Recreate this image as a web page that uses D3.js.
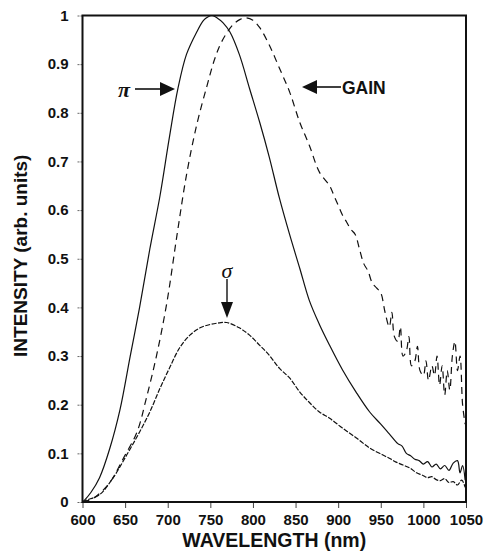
<!DOCTYPE html>
<html>
<head>
<meta charset="utf-8">
<script src="https://cdn.jsdelivr.net/npm/d3@7/dist/d3.min.js"></script>
<style>
  html, body { margin: 0; padding: 0; background: #fff; }
  svg { display: block; }
  text { font-family: "Liberation Sans", Arial, sans-serif; fill: #111; }
</style>
</head>
<body>
<svg id="chart" width="485" height="553"></svg>
<script>
// ---- data ----
const xTicks = [600, 650, 700, 750, 800, 850, 900, 950, 1000, 1050];
const yTicks = [0, 0.1, 0.2, 0.3, 0.4, 0.5, 0.6, 0.7, 0.8, 0.9, 1];
const yTickLabels = ["0", "0.1", "0.2", "0.3", "0.4", "0.5", "0.6", "0.7", "0.8", "0.9", "1"];

// pi polarisation (solid)
const piData = [
  [600, 0.0], [603, 0.005], [610, 0.02], [620, 0.05], [632, 0.11], [644, 0.19], [656, 0.30],
  [667, 0.40], [679, 0.52], [691, 0.63], [702, 0.75], [712, 0.85], [722, 0.92],
  [734, 0.966], [742, 0.99], [747, 0.997], [752, 1.0], [758, 0.995], [765, 0.985],
  [773, 0.966], [784, 0.92], [796, 0.85], [808, 0.78], [819, 0.71], [831, 0.625],
  [843, 0.55], [855, 0.48], [866, 0.415], [878, 0.365], [890, 0.322], [905, 0.272],
  [921, 0.226], [937, 0.185], [950, 0.16], [960, 0.14], [970, 0.12], [975, 0.115],
  [980, 0.10], [985, 0.095], [990, 0.088], [995, 0.085], [1000, 0.078], [1005, 0.083],
  [1010, 0.072], [1015, 0.078], [1020, 0.068], [1025, 0.075], [1030, 0.065],
  [1035, 0.08], [1040, 0.085], [1043, 0.06], [1046, 0.075], [1049, 0.045]
];

// sigma polarisation (fine broken line)
const sigmaData = [
  [600, 0.0], [605, 0.004], [620, 0.015], [636, 0.05], [652, 0.097], [667, 0.144],
  [679, 0.185], [691, 0.234], [702, 0.275], [714, 0.317], [726, 0.343], [738, 0.358],
  [750, 0.365], [760, 0.368], [769, 0.369], [784, 0.358], [796, 0.343], [808, 0.322],
  [819, 0.302], [831, 0.275], [843, 0.255], [855, 0.226], [866, 0.205], [878, 0.185],
  [890, 0.172], [905, 0.152], [921, 0.132], [937, 0.111], [952, 0.097], [960, 0.09],
  [968, 0.082], [976, 0.076], [984, 0.07], [992, 0.06], [999, 0.055], [1005, 0.05],
  [1010, 0.052], [1015, 0.046], [1020, 0.044], [1025, 0.048], [1030, 0.04],
  [1035, 0.042], [1040, 0.035], [1045, 0.045], [1049, 0.03]
];

// gain spectrum (dashed)
const gainData = [
  [600, 0.0], [613, 0.008], [632, 0.04], [648, 0.09], [664, 0.144], [675, 0.214],
  [687, 0.302], [699, 0.41], [711, 0.55], [722, 0.672], [734, 0.775], [746, 0.855],
  [755, 0.91], [763, 0.945], [776, 0.98], [785, 0.992], [792, 0.995], [800, 0.99],
  [808, 0.975], [819, 0.94], [831, 0.892], [843, 0.843], [855, 0.78], [866, 0.734],
  [878, 0.678], [890, 0.65], [895, 0.63], [900, 0.61], [905, 0.59], [910, 0.575],
  [915, 0.56], [920, 0.55], [925, 0.52], [930, 0.49], [935, 0.475], [940, 0.45],
  [945, 0.44], [950, 0.43], [955, 0.39], [960, 0.36], [963, 0.39], [966, 0.34],
  [970, 0.33], [973, 0.36], [976, 0.30], [980, 0.31], [983, 0.34], [986, 0.28],
  [990, 0.29], [993, 0.32], [996, 0.27], [1000, 0.26], [1003, 0.29], [1006, 0.25],
  [1010, 0.28], [1013, 0.26], [1016, 0.30], [1019, 0.24], [1022, 0.28], [1025, 0.22],
  [1028, 0.27], [1031, 0.23], [1034, 0.30], [1037, 0.33], [1040, 0.27], [1043, 0.30],
  [1046, 0.20], [1049, 0.16]
];

// ---- layout ----
const svg = d3.select("#chart");
const mLeft = 82.5, mRight = 466, mTop = 15.5, mBottom = 502;

const x = d3.scaleLinear().domain([600, 1050]).range([mLeft, mRight]);
const y = d3.scaleLinear().domain([0, 1]).range([mBottom, mTop]);

// curves
const line = d3.line().x(d => x(d[0])).y(d => y(d[1])).curve(d3.curveCatmullRom.alpha(0.5));
const plot = svg.append("g");
plot.append("path").datum(piData).attr("d", line)
  .attr("fill", "none").attr("stroke", "#111").attr("stroke-width", 1.2);
plot.append("path").datum(sigmaData).attr("d", line)
  .attr("fill", "none").attr("stroke", "#111").attr("stroke-width", 1.2)
  .attr("stroke-dasharray", "5,1.5");
plot.append("path").datum(gainData).attr("d", line)
  .attr("fill", "none").attr("stroke", "#111").attr("stroke-width", 1.2)
  .attr("stroke-dasharray", "7,5");

// axes
const xAxis = d3.axisBottom(x).tickValues(xTicks).tickSize(6).tickPadding(4)
  .tickFormat(d3.format("d"));
const gx = svg.append("g").attr("transform", `translate(0,${mBottom})`).call(xAxis);
gx.select(".domain").remove();
gx.selectAll(".tick line").attr("stroke", "#444").attr("stroke-width", 1);
gx.selectAll(".tick text").attr("font-size", 15).attr("font-weight", "bold")
  .attr("font-family", "Liberation Sans, Arial, sans-serif").attr("fill", "#111").attr("dy", "0.85em");

const yAxis = d3.axisLeft(y).tickValues(yTicks).tickSize(6).tickPadding(8)
  .tickFormat((d, i) => yTickLabels[i]);
const gy = svg.append("g").attr("transform", `translate(${mLeft},0)`).call(yAxis);
gy.select(".domain").remove();
gy.selectAll(".tick line").attr("stroke", "#666").attr("stroke-width", 1)
  .attr("stroke-dasharray", "2,1");
gy.selectAll(".tick text").attr("font-size", 15).attr("font-weight", "bold")
  .attr("font-family", "Liberation Sans, Arial, sans-serif").attr("fill", "#111");

// frame
svg.append("rect").attr("x", mLeft).attr("y", mTop)
  .attr("width", mRight - mLeft).attr("height", mBottom - mTop)
  .attr("fill", "none").attr("stroke", "#111").attr("stroke-width", 2);

// axis titles
svg.append("text").attr("x", (mLeft + mRight) / 2).attr("y", 547)
  .attr("text-anchor", "middle").attr("font-size", 19.5).attr("font-weight", "bold")
  .text("WAVELENGTH (nm)");
svg.append("text").attr("transform", `translate(27,${(mTop + mBottom) / 2 - 3}) rotate(-90)`)
  .attr("text-anchor", "middle").attr("font-size", 19).attr("font-weight", "bold")
  .text("INTENSITY (arb. units)");

// annotations
const ann = svg.append("g");
// pi
ann.append("text").attr("x", 124).attr("y", 97).attr("text-anchor", "middle")
  .attr("font-style", "italic").attr("font-weight", "bold").attr("font-size", 22)
  .style("font-family", "'Liberation Serif', serif").text("π");
ann.append("line").attr("x1", 135).attr("y1", 89).attr("x2", 162).attr("y2", 89)
  .attr("stroke", "#111").attr("stroke-width", 1.6);
ann.append("path").attr("d", "M160,82 L175,89 L160,96 Z").attr("fill", "#111");
// gain
ann.append("path").attr("d", "M317,80 L302,87 L317,94 Z").attr("fill", "#111");
ann.append("line").attr("x1", 315).attr("y1", 87).attr("x2", 341).attr("y2", 87)
  .attr("stroke", "#111").attr("stroke-width", 1.6);
ann.append("text").attr("x", 342).attr("y", 94).attr("font-size", 17.5)
  .attr("font-weight", "bold").text("GAIN");
// sigma
ann.append("text").attr("x", 227).attr("y", 278).attr("text-anchor", "middle")
  .attr("font-style", "italic").attr("font-size", 22)
  .style("font-family", "'Liberation Serif', serif").text("σ");
ann.append("line").attr("x1", 227).attr("y1", 279).attr("x2", 227).attr("y2", 305)
  .attr("stroke", "#111").attr("stroke-width", 1.4);
ann.append("path").attr("d", "M221,302 L227,318 L233,302 Z").attr("fill", "#111");
</script>
</body>
</html>
